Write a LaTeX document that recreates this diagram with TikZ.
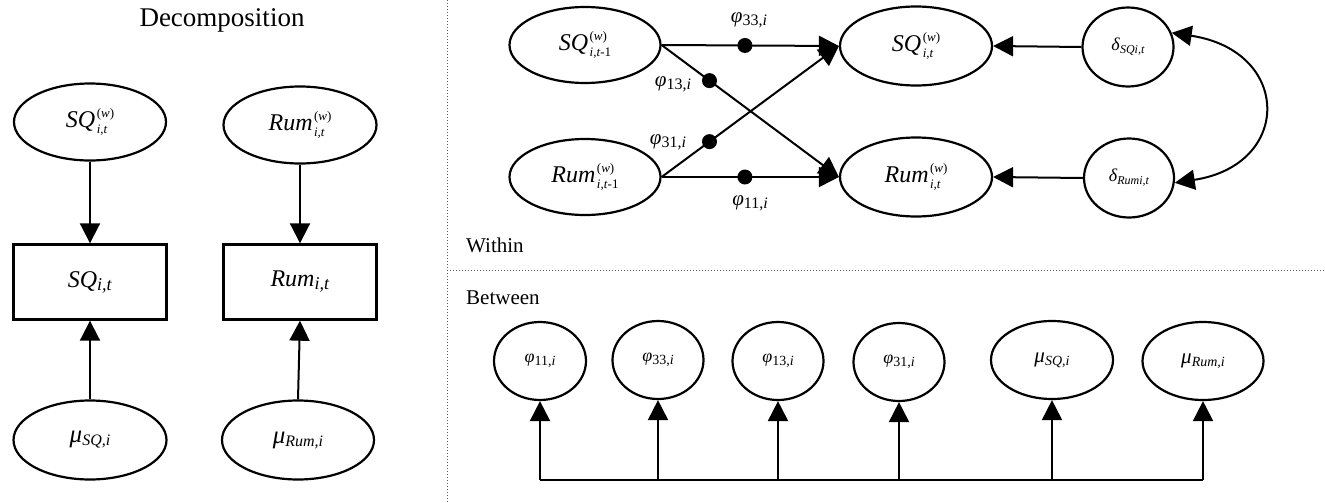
\documentclass[tikz,border=0pt]{standalone}
\usepackage{fontspec}
\setmainfont{Liberation Serif}
\usetikzlibrary{arrows.meta,shapes.geometric}
\newcommand\supsub[3][13]{\kern1.5pt\raisebox{-6pt}{\fontsize{#1}{#1}\selectfont\shortstack[l]{#2\\[1pt]#3}}}
\newcommand\lowsub[2][15]{\raisebox{-3pt}{\fontsize{#1}{#1}\selectfont #2}}
\begin{document}
\begin{tikzpicture}[x=1pt,y=-1pt,
  ell/.style={draw, ellipse, line width=2.2pt, inner sep=0pt},
  boxnode/.style={draw, rectangle, line width=2.4pt, inner sep=0pt, minimum width=153pt, minimum height=75pt},
  arr/.style={-{Triangle[length=20pt,width=20pt]}, line width=2pt},
  arrboth/.style={{Triangle[length=20pt,width=20pt]}-{Triangle[length=20pt,width=20pt]}, line width=2pt},
  dotnode/.style={circle, fill, inner sep=0pt, minimum size=15pt},
  sep/.style={dotted, line width=1pt, gray!70!black},
  big/.style={font=\fontsize{24}{24}\selectfont},
  lbl/.style={font=\fontsize{21}{21}\selectfont, inner sep=0pt},
  small/.style={font=\fontsize{18}{18}\selectfont}]
\useasboundingbox (0,0) rectangle (1325,503);

% separators
\coordinate (vtop) at (447,0);
\coordinate (vbot) at (447,503);
\coordinate (hl) at (447,270);
\coordinate (hr) at (1325,270);
\draw[sep] (vtop) -- (vbot);
\draw[sep] (hl) -- (hr);

% left panel
\node[font=\fontsize{27}{27}\selectfont] (title) at (222,20) {Decomposition};
\node[ell, big, minimum width=152pt, minimum height=77pt] (sqw) at (90,122) {\textit{SQ}\supsub{(\textit{w})}{\textit{i,t}}};
\node[ell, big, minimum width=153pt, minimum height=77pt] (rumw) at (300,125) {\textit{Rum}\supsub{(\textit{w})}{\textit{i,t}}};
\node[boxnode, big] (sqbox) at (90,282) {\textit{SQ}\lowsub[18]{\textit{i,t}}};
\node[boxnode, big] (rumbox) at (300,282) {\textit{Rum}\lowsub[18]{\textit{i,t}}};
\node[ell, font=\fontsize{25}{25}\selectfont, minimum width=153pt, minimum height=79pt] (musq) at (90,440) {\textit{μ}\lowsub[16]{\textit{SQ,i}}};
\node[ell, font=\fontsize{25}{25}\selectfont, minimum width=152pt, minimum height=79pt] (murum) at (298,440) {\textit{μ}\lowsub[16]{\textit{Rum,i}}};
\draw[arr] (sqw.south) -- (sqbox.north);
\draw[arr] (rumw.south) -- (rumbox.north);
\draw[arr] (musq.north) -- (sqbox.south);
\draw[arr] (murum.north) -- (rumbox.south);

% within
\node[ell, big, minimum width=151pt, minimum height=76pt] (sq1) at (585,45) {\textit{SQ}\supsub{(\textit{w})}{\textit{i,t}-1}};
\node[ell, big, minimum width=151pt, minimum height=76pt] (rum1) at (585,177) {\textit{Rum}\supsub{(\textit{w})}{\textit{i,t}-1}};
\node[ell, big, minimum width=152pt, minimum height=79pt] (sqt) at (916,46) {\textit{SQ}\supsub{(\textit{w})}{\textit{i,t}}};
\node[ell, big, minimum width=152pt, minimum height=79pt] (rumt) at (916,177) {\textit{Rum}\supsub{(\textit{w})}{\textit{i,t}}};
\node[ell, font=\fontsize{18}{18}\selectfont, minimum width=91pt, minimum height=79pt] (dsq) at (1128,47) {\textit{δ}\lowsub[12]{\textit{SQi,t}}};
\node[ell, font=\fontsize{18}{18}\selectfont, minimum width=90pt, minimum height=79pt] (drum) at (1129,178) {\textit{δ}\lowsub[12]{\textit{Rumi,t}}};

\draw[arr] (sq1.east) -- node[dotnode, pos=0.47] (d33) {} (sqt.west);
\draw[arr] (sq1.east) -- node[dotnode, pos=0.27] (d13) {} (rumt.west);
\draw[arr] (rum1.east) -- node[dotnode, pos=0.27] (d31) {} (sqt.west);
\draw[arr] (rum1.east) -- node[dotnode, pos=0.47] (d11) {} (rumt.west);
\node[lbl] (l33) at (749,20) {\textit{φ}\lowsub[16]{33,\textit{i}}};
\node[lbl] (l13) at (673,84) {\textit{φ}\lowsub[16]{13,\textit{i}}};
\node[lbl] (l31) at (668,142) {\textit{φ}\lowsub[16]{31,\textit{i}}};
\node[lbl] (l11) at (750,203) {\textit{φ}\lowsub[16]{11,\textit{i}}};

\draw[arr] (dsq.west) -- (sqt.east);
\draw[arr] (drum.west) -- (rumt.east);
\draw[arrboth] (dsq.18) .. controls +(120,18) and +(118,-18) .. (drum.-6);

\node[anchor=west, font=\fontsize{21}{21}\selectfont, inner sep=0pt] (within) at (466,245) {Within};
\node[anchor=west, font=\fontsize{21}{21}\selectfont, inner sep=0pt] (between) at (466,298) {Between};

% between
\node[ell, small, minimum width=92pt, minimum height=78pt] (p11) at (540,361) {\textit{φ}\lowsub[14]{11,\textit{i}}};
\node[ell, small, minimum width=91pt, minimum height=78pt] (p33) at (658,360) {\textit{φ}\lowsub[14]{33,\textit{i}}};
\node[ell, small, minimum width=91pt, minimum height=78pt] (p13) at (778,361) {\textit{φ}\lowsub[14]{13,\textit{i}}};
\node[ell, small, minimum width=91pt, minimum height=78pt] (p31) at (899,362) {\textit{φ}\lowsub[14]{31,\textit{i}}};
\node[ell, font=\fontsize{21}{21}\selectfont, minimum width=122pt, minimum height=78pt] (msq) at (1052,360) {\textit{μ}\lowsub[14]{\textit{SQ,i}}};
\node[ell, font=\fontsize{21}{21}\selectfont, minimum width=121pt, minimum height=78pt] (mrum) at (1203,361) {\textit{μ}\lowsub[14]{\textit{Rum,i}}};
\coordinate (bus) at (0,480);
\draw[line width=2pt] (p11 |- bus) -- (mrum |- bus);
\foreach \n in {p11,p33,p13,p31,msq,mrum}
  \draw[arr] (\n |- bus) -- (\n.south);
\end{tikzpicture}
\end{document}
